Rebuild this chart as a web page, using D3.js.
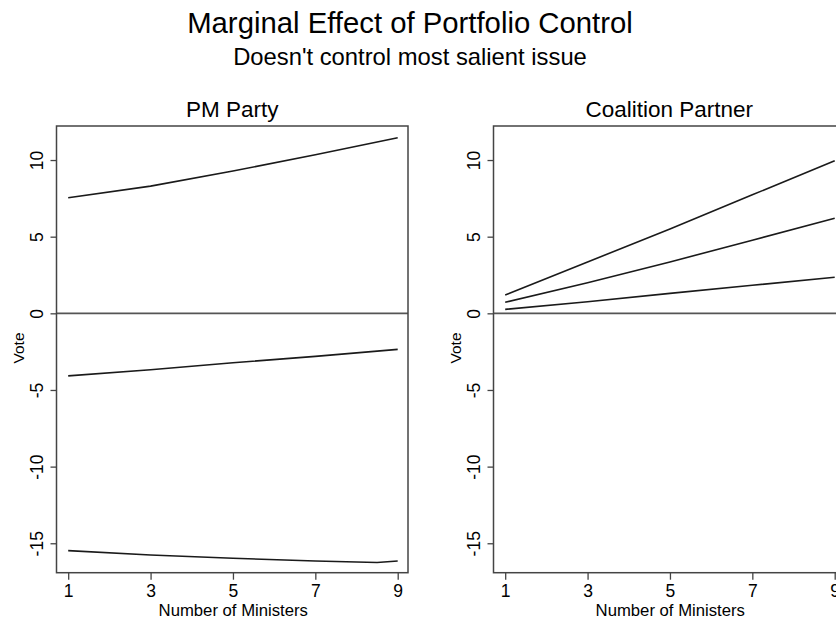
<!DOCTYPE html>
<html>
<head>
<meta charset="utf-8">
<script src="https://cdn.jsdelivr.net/npm/d3@7"></script>
<style>
  body { margin: 0; background: #fff; }
  text { font-family: "Liberation Sans", Arial, sans-serif; fill: #000; }
</style>
</head>
<body>
<div id="chart"></div>
<script>
var svgWidth = 836;
var svgHeight = 620;

// data
var ministers = [1, 3, 5, 7, 9];
var pmUpper = [7.54, 8.3, 9.28, 10.35, 11.45];
var pmEstimate = [-4.08, -3.68, -3.22, -2.81, -2.35];
var pmLowerX = [1, 3, 5, 7, 8.5, 9];
var pmLower = [-15.48, -15.77, -15.98, -16.16, -16.25, -16.16];
var cpUpper = [1.19, 3.35, 5.5, 7.73, 9.95];
var cpEstimate = [0.72, 2.0, 3.35, 4.77, 6.2];
var cpLower = [0.26, 0.76, 1.3, 1.83, 2.35];
var xTicks = [1, 3, 5, 7, 9];
var yTicks = [-15, -10, -5, 0, 5, 10];

var panels = [
    {
        title: "PM Party",
        left: 56.5,
        series: [
            ministers.map((m, i) => [m, pmUpper[i]]),
            ministers.map((m, i) => [m, pmEstimate[i]]),
            pmLowerX.map((m, i) => [m, pmLower[i]])
        ]
    },
    {
        title: "Coalition Partner",
        left: 493.5,
        series: [
            ministers.map((m, i) => [m, cpUpper[i]]),
            ministers.map((m, i) => [m, cpEstimate[i]]),
            ministers.map((m, i) => [m, cpLower[i]])
        ]
    }
];

var plotWidth = 351.5;
var plotTop = 126;
var plotBottom = 572.7;

var svg = d3.select("#chart")
    .append("svg")
    .attr("width", svgWidth)
    .attr("height", svgHeight);

svg.append("text")
    .attr("x", 410)
    .attr("y", 33)
    .attr("text-anchor", "middle")
    .style("font-size", "29.3px")
    .text("Marginal Effect of Portfolio Control");

svg.append("text")
    .attr("x", 410)
    .attr("y", 65)
    .attr("text-anchor", "middle")
    .style("font-size", "23.8px")
    .text("Doesn't control most salient issue");

var y = d3.scaleLinear()
    .domain([-16.92, 12.22])
    .range([plotBottom, plotTop]);

panels.forEach(function(p) {
    var x = d3.scaleLinear()
        .domain([0.716, 9.25])
        .range([p.left, p.left + plotWidth]);

    var g = svg.append("g");

    // panel title
    g.append("text")
        .attr("x", p.left + plotWidth / 2)
        .attr("y", 117)
        .attr("text-anchor", "middle")
        .style("font-size", "22.5px")
        .text(p.title);

    // zero line
    g.append("line")
        .attr("x1", p.left)
        .attr("x2", p.left + plotWidth)
        .attr("y1", y(0))
        .attr("y2", y(0))
        .attr("stroke", "#555")
        .attr("stroke-width", 1.8);

    // lines
    var line = d3.line()
        .x(d => x(d[0]))
        .y(d => y(d[1]));

    g.selectAll("path.series")
        .data(p.series)
        .enter()
        .append("path")
        .attr("class", "series")
        .attr("d", line)
        .attr("fill", "none")
        .attr("stroke", "#1a1a1a")
        .attr("stroke-width", 1.6);

    // frame
    g.append("rect")
        .attr("x", p.left)
        .attr("y", plotTop)
        .attr("width", plotWidth)
        .attr("height", plotBottom - plotTop)
        .attr("fill", "none")
        .attr("stroke", "#444")
        .attr("stroke-width", 1.5);

    // x axis
    var xAxis = g.append("g")
        .attr("transform", `translate(0, ${plotBottom})`)
        .call(d3.axisBottom(x).tickValues(xTicks).tickSize(7).tickPadding(5)
            .tickFormat(d => String(d)));
    xAxis.select(".domain").remove();
    xAxis.selectAll(".tick line").attr("stroke", "#444").attr("stroke-width", 1.3);
    xAxis.selectAll(".tick text")
        .style("font-size", "17.5px")
        .style("font-family", "'Liberation Sans', Arial, sans-serif")
        .attr("fill", "#000");

    g.append("text")
        .attr("x", p.left + plotWidth / 2 + 1)
        .attr("y", 615.5)
        .attr("text-anchor", "middle")
        .style("font-size", "16.7px")
        .text("Number of Ministers");

    // y axis
    var yAxis = g.append("g")
        .attr("transform", `translate(${p.left}, 0)`)
        .call(d3.axisLeft(y).tickValues(yTicks).tickSize(6).tickPadding(0)
            .tickFormat(d => String(d)));
    yAxis.select(".domain").remove();
    yAxis.selectAll(".tick line").attr("stroke", "#444").attr("stroke-width", 1.3);
    yAxis.selectAll(".tick text")
        .attr("x", null)
        .attr("dy", null)
        .attr("text-anchor", "middle")
        .attr("transform", "translate(-14, 0) rotate(-90)")
        .style("font-size", "17.5px")
        .style("font-family", "'Liberation Sans', Arial, sans-serif")
        .attr("fill", "#000");

    g.append("text")
        .attr("transform", `translate(${p.left - 33}, 348) rotate(-90)`)
        .attr("text-anchor", "middle")
        .style("font-size", "15.5px")
        .text("Vote");
});
</script>
</body>
</html>
